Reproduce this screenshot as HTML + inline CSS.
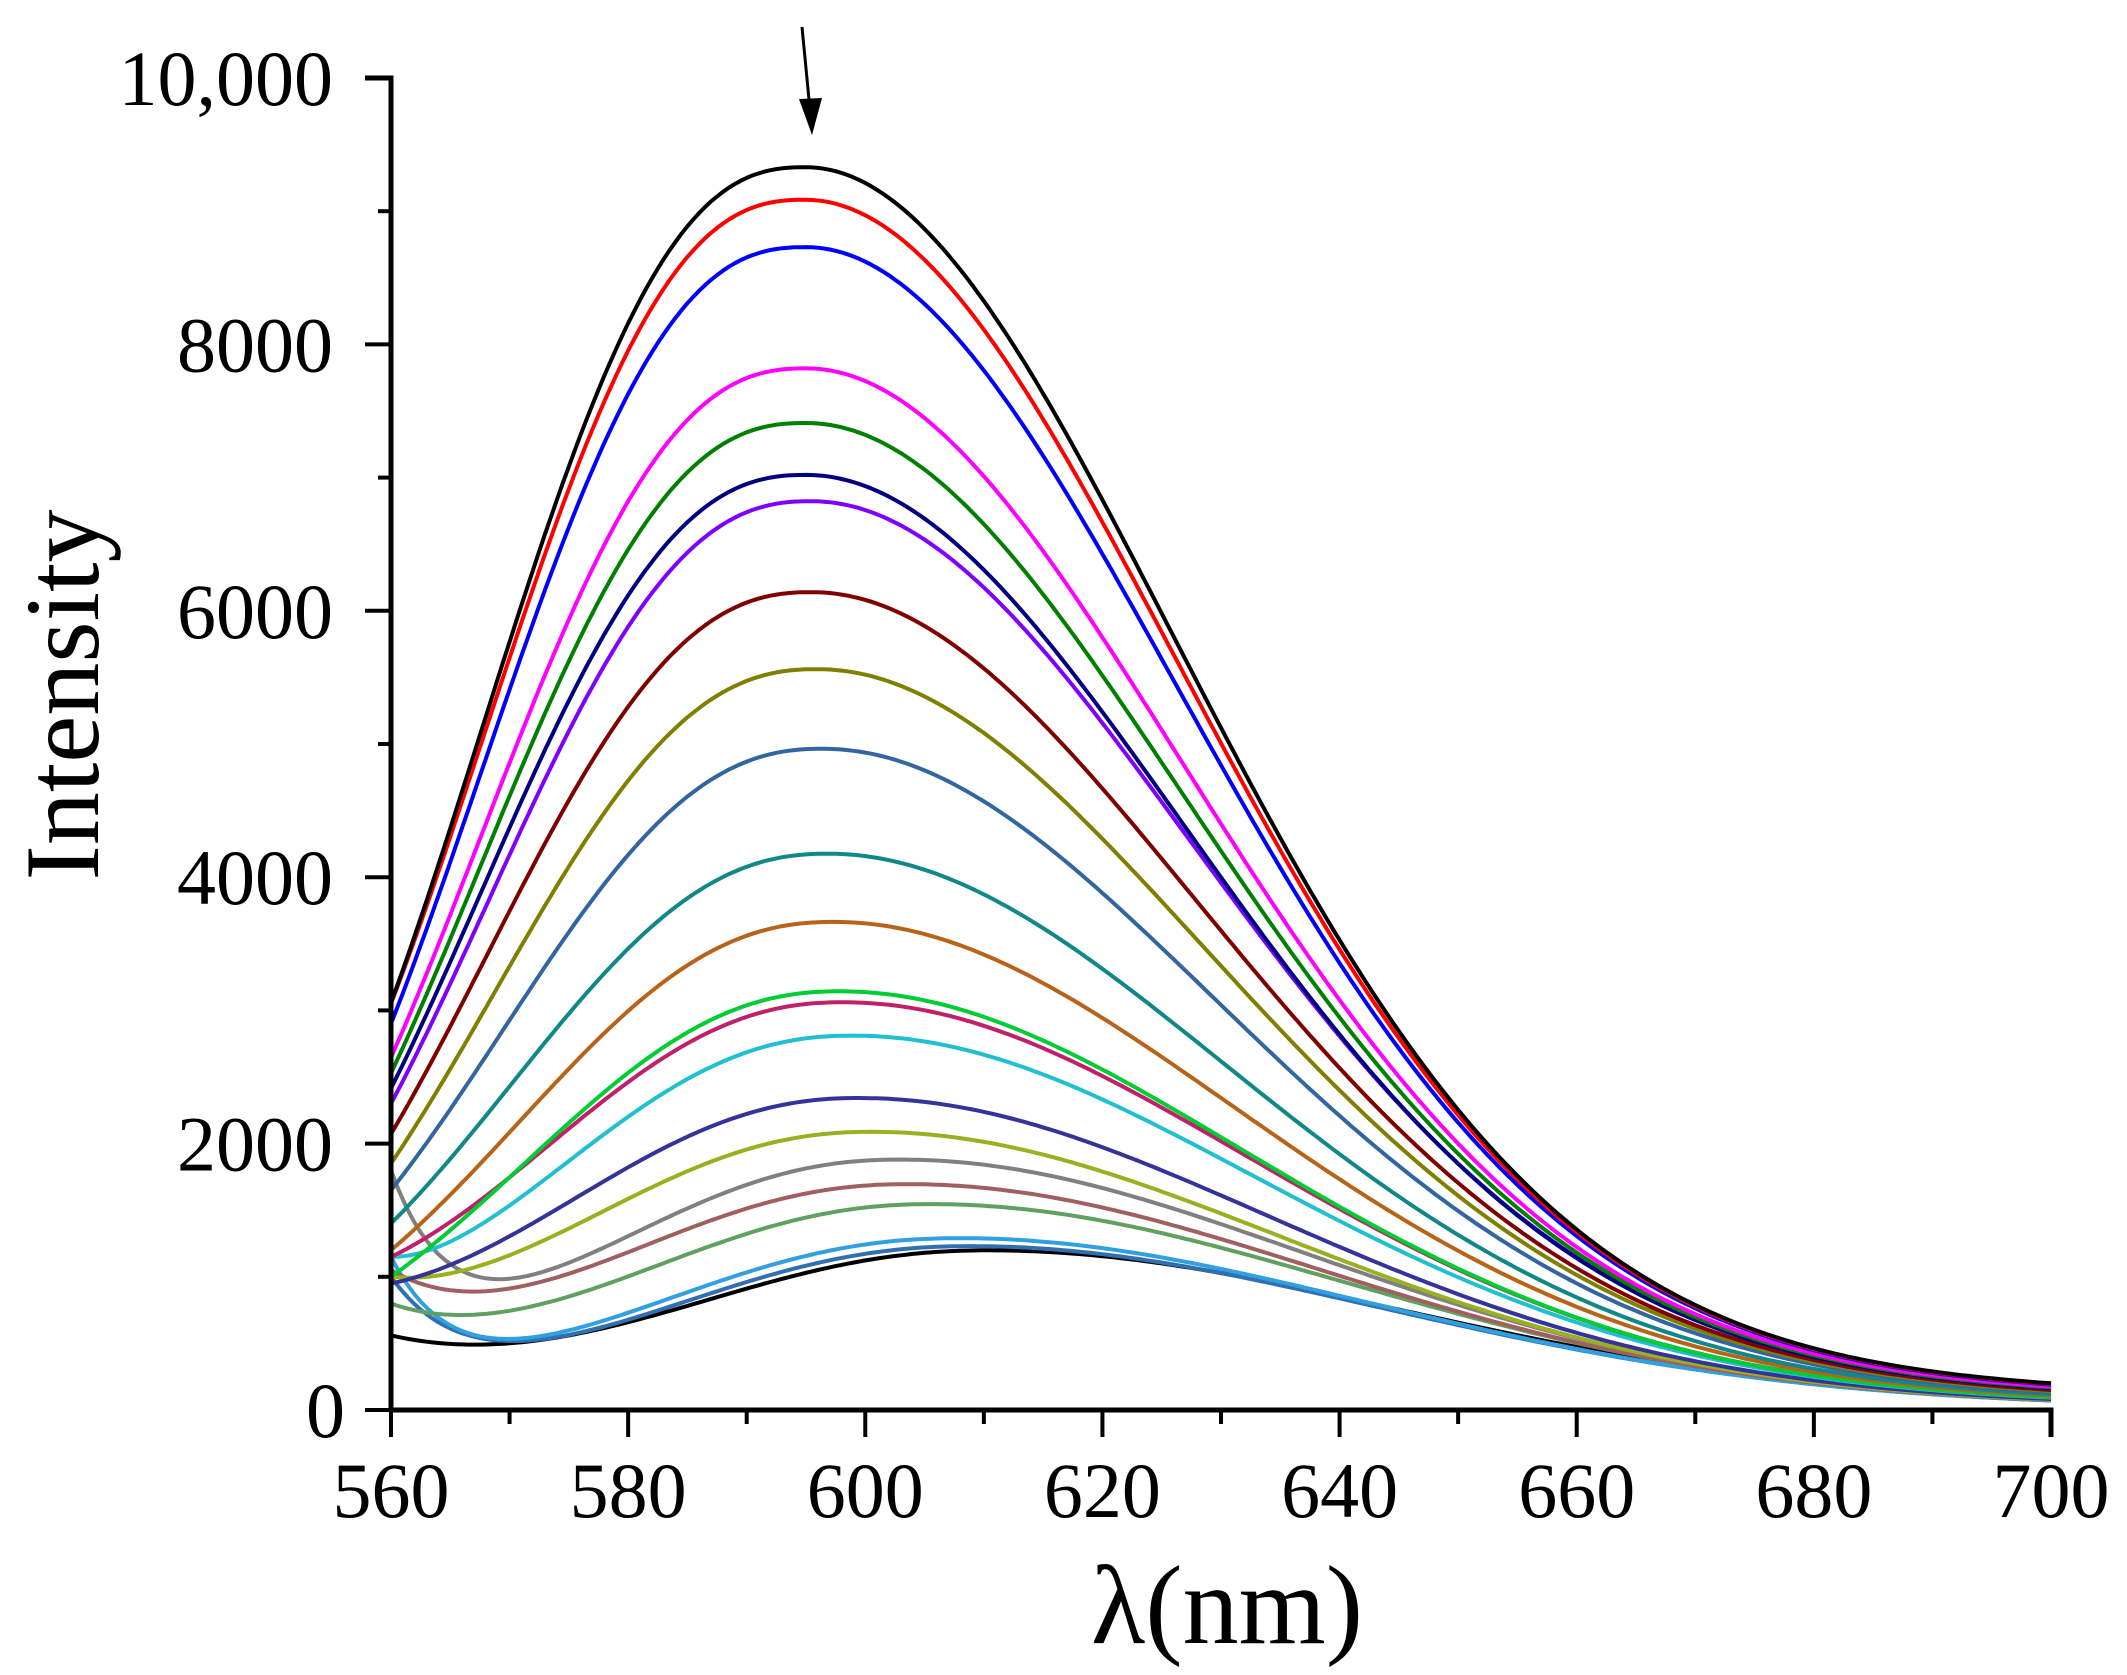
<!DOCTYPE html>
<html><head><meta charset="utf-8"><style>
html,body{margin:0;padding:0;background:#fff}
svg{display:block}
text{font-family:"Liberation Serif","Times New Roman",serif;fill:#000}
</style></head><body>
<svg id="s" width="2127" height="1675" viewBox="0 0 2127 1675" xmlns="http://www.w3.org/2000/svg" font-family="Liberation Serif, Times New Roman, serif">
<defs><clipPath id="cp"><rect x="390" y="60" width="1662" height="1352"/></clipPath></defs>
<g id="curves" clip-path="url(#cp)" fill="none" stroke-width="4" stroke-linejoin="round"></g>
<g stroke="#000" stroke-width="5" fill="none">
<path d="M365,78 H391 V1410 H2051 V1437"/>
</g>
<g id="ticks" stroke="#000" stroke-width="4"></g>
<g id="labels" font-size="78"></g>
<line x1="802" y1="27" x2="810" y2="110" stroke="#000" stroke-width="3"/>
<polygon points="799,99 822,98 812,135" fill="#000"/>
<text x="1227" y="1643" font-size="112" text-anchor="middle">λ(nm)</text>
<text transform="translate(98,695) rotate(-90)" font-size="106" text-anchor="middle">Intensity</text>
</svg>
<script>
var NS="http://www.w3.org/2000/svg";
function X(v){return 391+(v-560)*(2051-391)/140;}
function Y(v){return 1410-v*(1410-78)/10000;}
var tk=document.getElementById('ticks'),lb=document.getElementById('labels');
function el(p,t,a){var e=document.createElementNS(NS,t);for(var k in a)e.setAttribute(k,a[k]);p.appendChild(e);return e;}
for(var v=560;v<=700;v+=10){var x=X(v);el(tk,'line',{x1:x,y1:1410,x2:x,y2:(v%20==0)?1437:1424});
 if(v%20==0){var t=el(lb,'text',{x:x,y:1517,'text-anchor':'middle'});t.textContent=v;}}
for(var v=0;v<=10000;v+=1000){var y=Y(v);el(tk,'line',{x1:391,y1:y,x2:(v%2000==0)?365:378,y2:y});
 if(v%2000==0){var t=el(lb,'text',{x:v==0?345:333,y:y+27,'text-anchor':'end'});t.textContent=v==10000?'10,000':v;}}
var C=[
["#000000",9330,595,3000,15],["#ff0000",9080,595,3050,15],["#0000ff",8730,595,2900,15],
["#ff00ff",7820,595,2600,15],["#008000",7410,595,2450,15],["#000080",7020,595,2400,15],
["#8000ff",6820,595.5,2300,15],["#800000",6140,595.5,2000,15],["#808000",5560,596,1850,15],
["#3366a0",4960,596.5,1650,14],["#108888",4170,597,1400,14],["#b8631a",3660,597.5,1200,13],
["#00cc33",3140,598,1000,13],["#c0206a",3050,598.5,1150,12],["#20c0d0",2810,599,1150,6],
["#333399",2330,600,950,12],["#99b020",2080,601,1000,10],["#808080",1880,603,1800,5],
["#a06060",1690,604,1050,9],["#60a060",1540,606,800,10],["#30a0e0",1290,608,1150,5],
["#3070b0",1230,609,1000,6],["#000000",1190,611,560,13]];
var g=document.getElementById('curves');
for(var i=C.length-1;i>=0;i--){var c=C[i],A=c[1],m=c[2];
 var t=(9330-A)/(9330-1190),p=2.5-0.3*t,wl=33.5+2*t,wr=45+6*t,tw=0.14;
 function sh(x){var d=x-m;if(d<0)return Math.exp(-Math.pow(-d/wl,p));
  return (1-tw)*Math.exp(-(d/wr)*(d/wr))+tw/(1+(d/40)*(d/40));}
 var B=Math.max(0,c[3]-A*sh(560)),tau=c[4];
 var d="";for(var x=560;x<=700.01;x+=0.5){var v=A*sh(x)+B*Math.exp(-(x-560)/tau);
  d+=(x==560?"M":"L")+X(x).toFixed(1)+","+Y(v).toFixed(1);}
 el(g,'path',{d:d,stroke:c[0]});}
</script>
</body></html>
